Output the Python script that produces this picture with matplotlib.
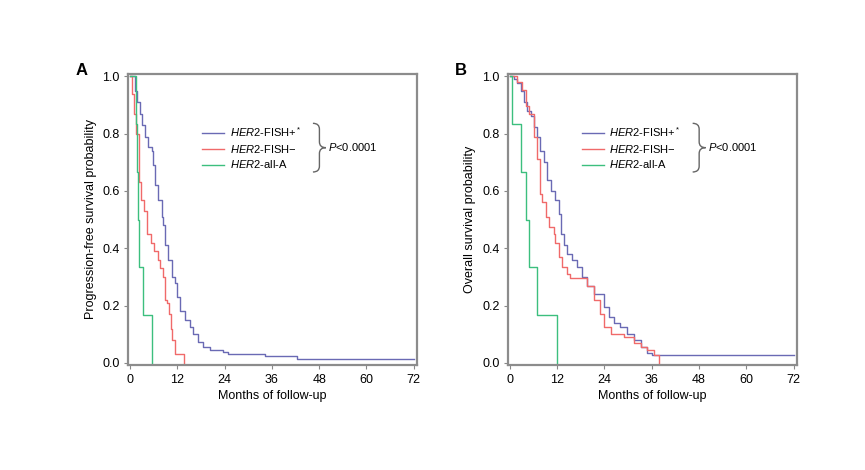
import matplotlib
matplotlib.use('Agg')
import matplotlib.pyplot as plt
from matplotlib.path import Path
from matplotlib.patches import PathPatch
import numpy as np

plt.rcParams['font.family'] = ['Liberation Sans', 'DejaVu Sans']
plt.rcParams['mathtext.fontset'] = 'custom'
plt.rcParams['mathtext.rm'] = 'Liberation Sans'
plt.rcParams['mathtext.it'] = 'Liberation Sans:italic'

# Kaplan-Meier step data (months, survival after step)
pfs_pos_t = [0, 1.3, 1.7, 2.5, 3.0, 3.8, 4.6, 5.5, 5.9, 6.3, 7.2, 8.0, 8.5, 8.9, 9.7, 10.6, 11.4,
             11.8, 12.7, 13.9, 15.2, 16.1, 17.3, 18.6, 20.3, 23.7, 24.9, 34.2, 42.4, 72]
pfs_pos_s = [1.0, 0.95, 0.91, 0.87, 0.83, 0.79, 0.755, 0.74, 0.69, 0.62, 0.57, 0.51, 0.48, 0.41, 0.36,
             0.30, 0.28, 0.23, 0.18, 0.15, 0.126, 0.10, 0.073, 0.056, 0.044, 0.038, 0.03, 0.023, 0.013, 0.013]
pfs_neg_t = [0, 0.4, 0.9, 1.6, 2.4, 2.9, 3.6, 4.3, 5.3, 6.2, 7.0, 7.6, 8.3, 8.8, 9.5, 9.9, 10.3, 10.7,
             11.3, 13.8]
pfs_neg_s = [1.0, 0.94, 0.87, 0.80, 0.63, 0.57, 0.53, 0.45, 0.42, 0.39, 0.36, 0.33, 0.30, 0.22, 0.21,
             0.17, 0.12, 0.08, 0.03, 0.0]
pfs_alla_t = [0, 1.5, 1.8, 2.1, 2.4, 3.3, 5.7]
pfs_alla_s = [1.0, 0.833, 0.667, 0.5, 0.333, 0.167, 0.0]

os_pos_t = [0, 1.1, 1.9, 2.8, 3.6, 4.5, 5.3, 6.2, 7.0, 7.8, 8.7, 9.5, 10.4, 11.6, 12.5, 13.1, 13.8,
            14.6, 15.9, 17.1, 18.4, 19.7, 21.4, 23.9, 25.2, 26.4, 28.1, 29.8, 31.5, 33.2, 34.9, 36.1, 72]
os_pos_s = [1.0, 0.99, 0.977, 0.95, 0.91, 0.88, 0.86, 0.825, 0.79, 0.74, 0.70, 0.64, 0.60, 0.57, 0.52,
            0.45, 0.41, 0.38, 0.36, 0.335, 0.30, 0.27, 0.24, 0.196, 0.16, 0.14, 0.126, 0.10, 0.08,
            0.056, 0.033, 0.027, 0.027]
os_neg_t = [0, 1.9, 3.2, 4.05, 4.9, 6.2, 7.0, 7.7, 8.3, 9.1, 10.0, 11.2, 11.6, 12.5, 13.3, 14.6, 15.4,
            19.7, 21.4, 23.0, 23.9, 25.6, 28.9, 31.5, 33.2, 34.9, 36.5, 37.8]
os_neg_s = [1.0, 0.98, 0.953, 0.895, 0.87, 0.79, 0.71, 0.59, 0.56, 0.51, 0.475, 0.45, 0.42, 0.37, 0.335,
            0.31, 0.295, 0.27, 0.22, 0.17, 0.126, 0.10, 0.09, 0.068, 0.056, 0.044, 0.027, 0.0]
os_alla_t = [0, 0.7, 2.8, 4.05, 4.9, 7.0, 12.1]
os_alla_s = [1.0, 0.833, 0.667, 0.5, 0.333, 0.167, 0.0]

labels = [r'$\it{HER2}$-FISH+$^*$', r'$\it{HER2}$-FISH$-$', r'$\it{HER2}$-all-A']
colors = ['#6a6ab4', '#f06a6a', '#3cbf7e']
xticks = [0, 12, 24, 36, 48, 60, 72]
yticks = [0.0, 0.2, 0.4, 0.6, 0.8, 1.0]

fig = plt.figure(figsize=(8.65, 4.7), dpi=100)
ax_a = fig.add_axes([0.148, 0.223, 0.334, 0.62])
ax_b = fig.add_axes([0.587, 0.223, 0.334, 0.62])

panels = [
    (ax_a, 'A', 'Progression-free survival probability',
     [(pfs_pos_t, pfs_pos_s), (pfs_neg_t, pfs_neg_s), (pfs_alla_t, pfs_alla_s)]),
    (ax_b, 'B', 'Overall survival probability',
     [(os_pos_t, os_pos_s), (os_neg_t, os_neg_s), (os_alla_t, os_alla_s)]),
]


def brace(ax, x0, x1, y0, y1):
    # thin right curly brace, drawn in axes coords
    xm = (x0 + x1) / 2
    ym = (y0 + y1) / 2
    d = 0.02
    verts = [(x0, y1), (xm, y1), (xm, y1 - d),
             (xm, ym + d), (xm, ym), (x1, ym),
             (xm, ym), (xm, ym - d),
             (xm, y0 + d), (xm, y0), (x0, y0)]
    codes = [Path.MOVETO, Path.CURVE3, Path.CURVE3,
             Path.LINETO, Path.CURVE3, Path.CURVE3,
             Path.CURVE3, Path.CURVE3,
             Path.LINETO, Path.CURVE3, Path.CURVE3]
    ax.add_patch(PathPatch(Path(verts, codes), transform=ax.transAxes, fill=False,
                           edgecolor='#666666', lw=1.0, clip_on=False))


for ax, letter, ylabel, curves in panels:
    # draw the three KM curves
    for (t, s), lab, col in zip(curves, labels, colors):
        ax.step(t, s, where='post', color=col, lw=1.0, label=lab)

    ax.set_xlim(-0.5, 72.8)
    ax.set_ylim(-0.008, 1.009)
    ax.set_xticks(xticks)
    ax.set_yticks(yticks)
    ax.set_yticklabels([f'{v:.1f}' for v in yticks])
    ax.tick_params(axis='both', labelsize=9, length=3, width=0.8, color='#888888', pad=3)
    for sp in ax.spines.values():
        sp.set_color('#8c8c8c')
        sp.set_linewidth(1.6)
    ax.set_xlabel('Months of follow-up', fontsize=9, labelpad=3)
    ax.set_ylabel(ylabel, fontsize=9, labelpad=4)

    # legend with brace and p-value
    ax.legend(loc='upper left', bbox_to_anchor=(0.24, 0.84), frameon=False, fontsize=8,
              handlelength=2.0, handletextpad=0.5, labelspacing=0.35, borderaxespad=0)
    brace(ax, 0.64, 0.685, 0.663, 0.83)
    ax.text(0.693, 0.749, r'$\it{P}$<0.0001', transform=ax.transAxes, fontsize=8,
            ha='left', va='center')

    # panel letter
    ax.text(-0.183, 0.985, letter, transform=ax.transAxes, fontsize=12, fontweight='bold',
            ha='left', va='bottom')

fig.savefig('out.png', dpi=100)
